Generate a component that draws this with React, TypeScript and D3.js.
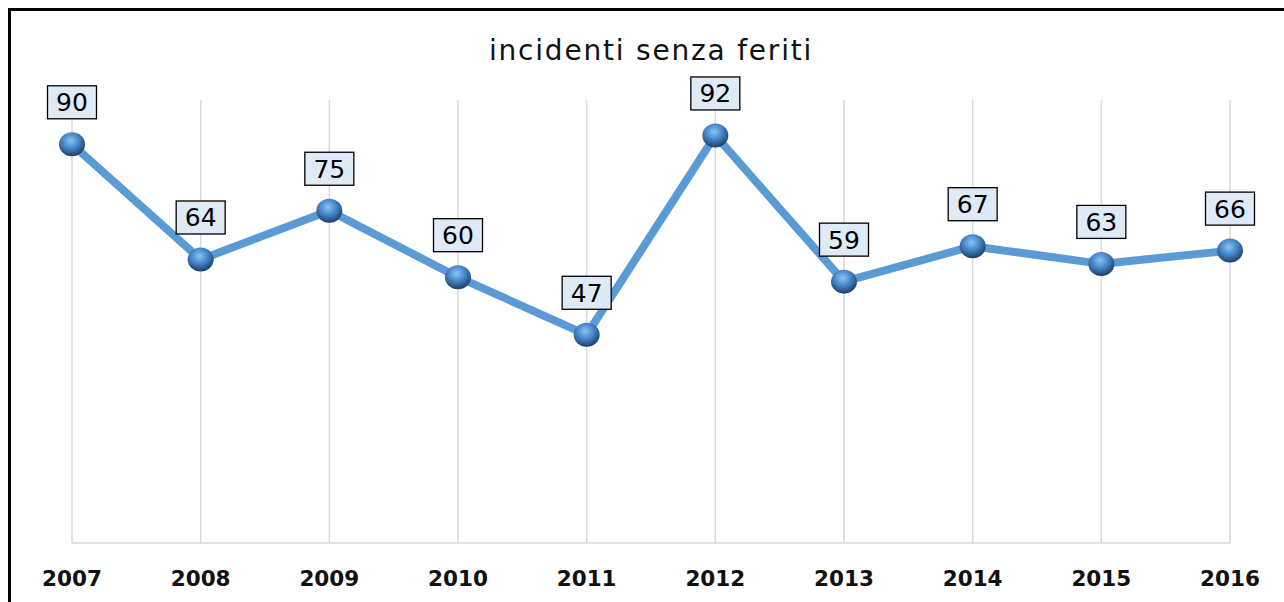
import { useRef, useEffect } from "react";
import * as d3 from "d3";

const years = ["2007", "2008", "2009", "2010", "2011", "2012", "2013", "2014", "2015", "2016"];
const incidents = [90, 64, 75, 60, 47, 92, 59, 67, 63, 66];
const chartTitle = "incidenti senza feriti";

const W = 1284;
const H = 602;

export default function App() {
  const ref = useRef<SVGSVGElement>(null);

  useEffect(() => {
    const svg = d3.select(ref.current);
    svg.selectAll("*").remove();

    const x = d3.scalePoint<string>().domain(years).range([72, 1230]);
    const y = d3.scaleLinear().domain([0, 100]).range([543, 100]);

    const defs = svg.append("defs");
    const grad = defs
      .append("radialGradient")
      .attr("id", "ball")
      .attr("cx", "45%")
      .attr("cy", "35%")
      .attr("r", "65%");
    grad.append("stop").attr("offset", "0%").attr("stop-color", "#8cc4f2");
    grad.append("stop").attr("offset", "45%").attr("stop-color", "#4a8cd0");
    grad.append("stop").attr("offset", "100%").attr("stop-color", "#1d3f66");

    svg.append("rect").attr("width", W).attr("height", H).attr("fill", "#fff");

    // outer frame (only top and left edges visible)
    svg
      .append("path")
      .attr("d", `M9.5,${H} L9.5,9.5 L${W},9.5`)
      .attr("fill", "none")
      .attr("stroke", "#000")
      .attr("stroke-width", 3);

    // vertical gridlines
    svg
      .append("g")
      .selectAll("line")
      .data(years)
      .enter()
      .append("line")
      .attr("x1", (d) => x(d)!)
      .attr("x2", (d) => x(d)!)
      .attr("y1", y(100))
      .attr("y2", y(0))
      .attr("stroke", "#d9d9d9")
      .attr("stroke-width", 1.5);

    // baseline
    svg
      .append("line")
      .attr("x1", x(years[0])!)
      .attr("x2", x(years[years.length - 1])!)
      .attr("y1", y(0))
      .attr("y2", y(0))
      .attr("stroke", "#d9d9d9")
      .attr("stroke-width", 1.5);

    // title
    svg
      .append("text")
      .attr("x", 651)
      .attr("y", 60)
      .attr("text-anchor", "middle")
      .attr("font-family", "DejaVu Sans, Verdana, sans-serif")
      .attr("font-size", 28)
      .attr("letter-spacing", 1.8)
      .attr("fill", "#111")
      .text(chartTitle);

    // x labels
    svg
      .append("g")
      .selectAll("text")
      .data(years)
      .enter()
      .append("text")
      .attr("x", (d) => x(d)!)
      .attr("y", 586)
      .attr("text-anchor", "middle")
      .attr("font-family", "DejaVu Sans, Verdana, sans-serif")
      .attr("font-weight", "bold")
      .attr("font-size", 21.5)
      .attr("fill", "#111")
      .text((d) => d);

    // the line
    const line = d3
      .line<number>()
      .x((_, i) => x(years[i])!)
      .y((d) => y(d));

    svg
      .append("path")
      .datum(incidents)
      .attr("fill", "none")
      .attr("stroke", "#5b9bd5")
      .attr("stroke-width", 8)
      .attr("stroke-linejoin", "round")
      .attr("d", line);

    // markers
    svg
      .append("g")
      .selectAll("ellipse")
      .data(incidents)
      .enter()
      .append("ellipse")
      .attr("cx", (_, i) => x(years[i])!)
      .attr("cy", (d) => y(d))
      .attr("rx", 13)
      .attr("ry", 12)
      .attr("fill", "url(#ball)");

    // data labels
    const lbl = svg
      .append("g")
      .selectAll("g")
      .data(incidents)
      .enter()
      .append("g")
      .attr("transform", (d, i) => `translate(${x(years[i])}, ${y(d) - 42})`);

    lbl
      .append("rect")
      .attr("x", -24.5)
      .attr("y", -16.5)
      .attr("width", 49)
      .attr("height", 33)
      .attr("fill", "#deeaf6")
      .attr("stroke", "#000")
      .attr("stroke-width", 1.3);

    lbl
      .append("text")
      .attr("y", 9)
      .attr("text-anchor", "middle")
      .attr("font-family", "DejaVu Sans, Verdana, sans-serif")
      .attr("font-size", 25)
      .attr("fill", "#000")
      .text((d) => d);
  }, []);

  return (
    <svg
      ref={ref}
      width={W}
      height={H}
      style={{ position: "absolute", left: 0, top: 0, display: "block" }}
    />
  );
}
